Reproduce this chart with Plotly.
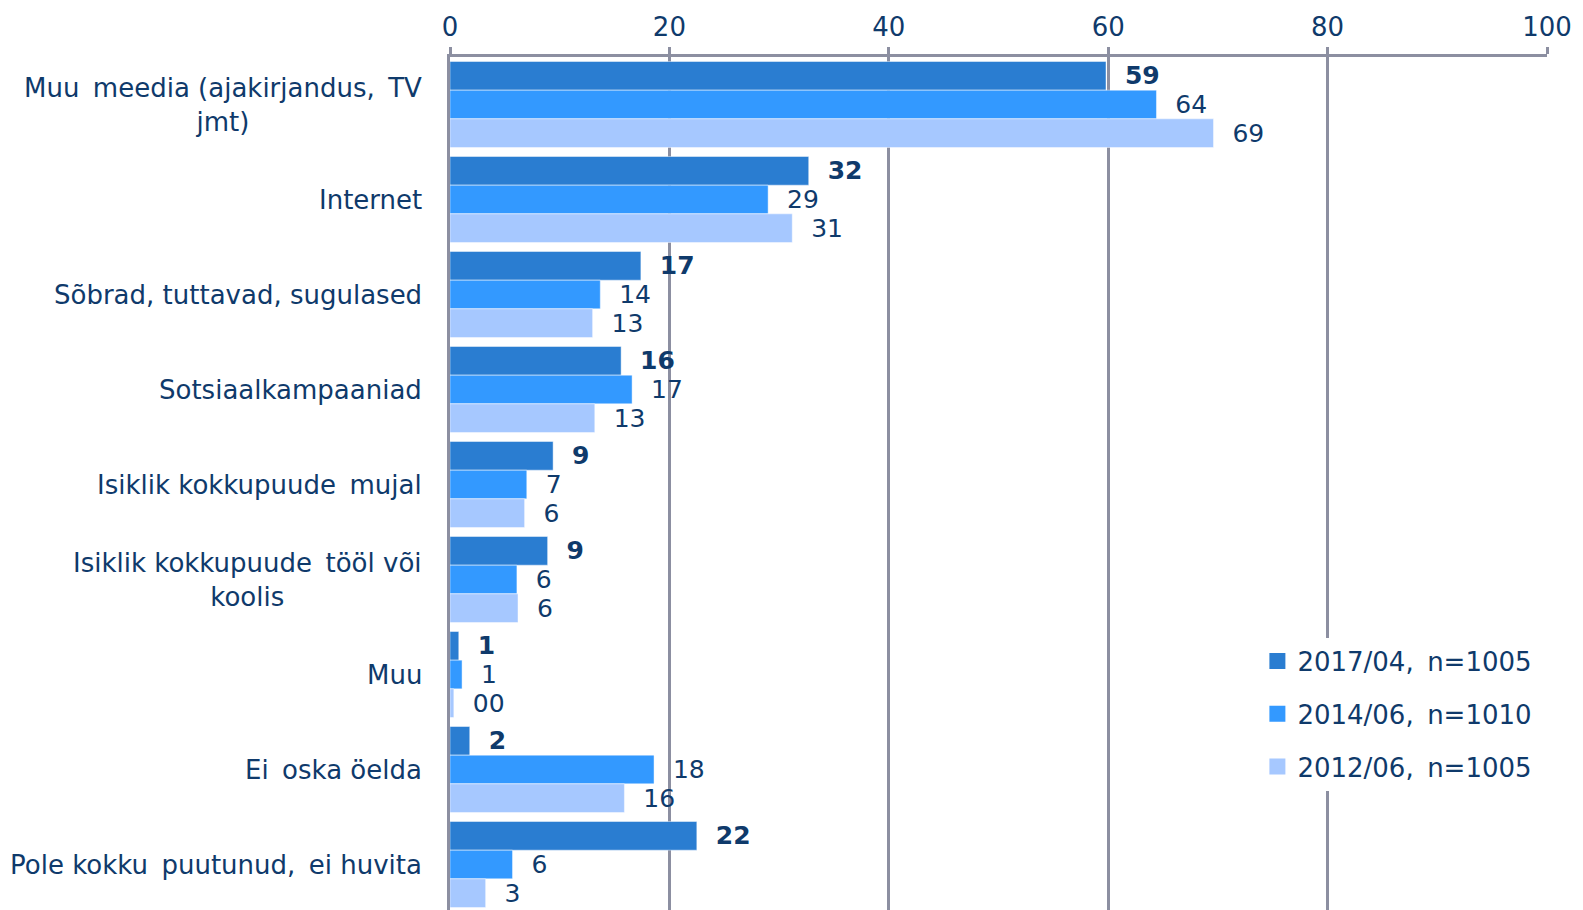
import plotly.graph_objects as go

categories = [
    "Muu\u2009 meedia (ajakirjandus,\u2009 TV<br>jmt)",
    "Internet",
    "Sõbrad, tuttavad, sugulased",
    "Sotsiaalkampaaniad",
    "Isiklik kokkupuude\u2009 mujal",
    "Isiklik kokkupuude\u2009 tööl või<br>koolis",
    "Muu",
    "Ei\u2009 oska öelda",
    "Pole kokku\u2009 puutunud,\u2009 ei huvita",
]

series_names = ["2017/04,\u2009 n=1005", "2014/06,\u2009 n=1010", "2012/06,\u2009 n=1005"]

vals_2017 = [59.8, 32.7, 17.4, 15.6, 9.4, 8.9, 0.8, 1.8, 22.5]
vals_2014 = [64.4, 29.0, 13.7, 16.6, 7.0, 6.1, 1.1, 18.6, 5.7]
vals_2012 = [69.6, 31.2, 13.0, 13.2, 6.8, 6.2, 0.35, 15.9, 3.25]

lab_2017 = ["59", "32", "17", "16", "9", "9", "1", "2", "22"]
lab_2014 = ["64", "29", "14", "17", "7", "6", "1", "18", "6"]
lab_2012 = ["69", "31", "13", "13", "6", "6", "00", "16", "3"]

x_ticks = [0, 20, 40, 60, 80, 100]

COLORS = ["#2A7DD1", "#3399FF", "#A6C8FF"]
NAVY = "#0F3A6B"
GRID = "#8C8FA1"
FONT = "DejaVu Sans, Verdana, sans-serif"

fig = go.Figure()
pad = "\u00a0\u00a0"
for i, (name, vals, labs) in enumerate(zip(series_names,
                                          [vals_2017, vals_2014, vals_2012],
                                          [lab_2017, lab_2014, lab_2012])):
    if i == 0:
        txt = [pad + "<b>" + l + "</b>" for l in labs]
    else:
        txt = [pad + l for l in labs]
    fig.add_trace(go.Bar(
        y=categories, x=vals, orientation="h", name=name,
        showlegend=False,
        marker=dict(color=COLORS[i], line=dict(color="rgba(255,255,255,0.45)", width=1)),
        text=txt, textposition="outside", cliponaxis=False,
        constraintext="none",
        textfont=dict(color=NAVY, size=25, family=FONT),
    ))

# legend-only entries so the swatches can be a bit larger than bar icons
for i, name in enumerate(series_names):
    fig.add_trace(go.Scatter(
        x=[None], y=[None], mode="markers", name=name, legendgroup=f"g{i}",
        marker=dict(symbol="square", size=16, color=COLORS[i]),
    ))

for c in categories:
    fig.add_annotation(
        x=0, xref="paper", y=c, yref="y", text=c, showarrow=False,
        xanchor="right", xshift=-26, align="center",
        font=dict(color=NAVY, size=26, family=FONT),
    )

# page body has an 8px margin, so the figure is shifted by that much
fig.update_layout(
    width=1575, height=904,
    margin=dict(l=442, r=36, t=49, b=0, pad=0),
    paper_bgcolor="white", plot_bgcolor="white",
    barmode="group", bargap=0.095, bargroupgap=0,
    font=dict(family=FONT, color=NAVY, size=26),
    showlegend=True,
    legend=dict(
        x=0.736, y=0.321, xanchor="left", yanchor="top",
        bgcolor="white", traceorder="grouped", tracegroupgap=16,
        font=dict(size=26, color=NAVY, family=FONT),
    ),
)
fig.update_xaxes(
    side="top", range=[0, 100], tickvals=x_ticks, automargin=False,
    showline=True, linecolor=GRID, linewidth=2.5,
    ticks="outside", ticklen=7, tickwidth=2.5, tickcolor=GRID,
    showgrid=True, gridcolor=GRID, gridwidth=2.5, zeroline=False,
    tickfont=dict(size=26, color=NAVY, family=FONT),
    ticklabelstandoff=1,
)
fig.update_yaxes(
    categoryorder="array", categoryarray=categories, automargin=False,
    range=[8.5, -0.5], showticklabels=False, showgrid=False,
    showline=True, linecolor=GRID, linewidth=2.5, zeroline=False,
)

fig.write_html("out.html")
